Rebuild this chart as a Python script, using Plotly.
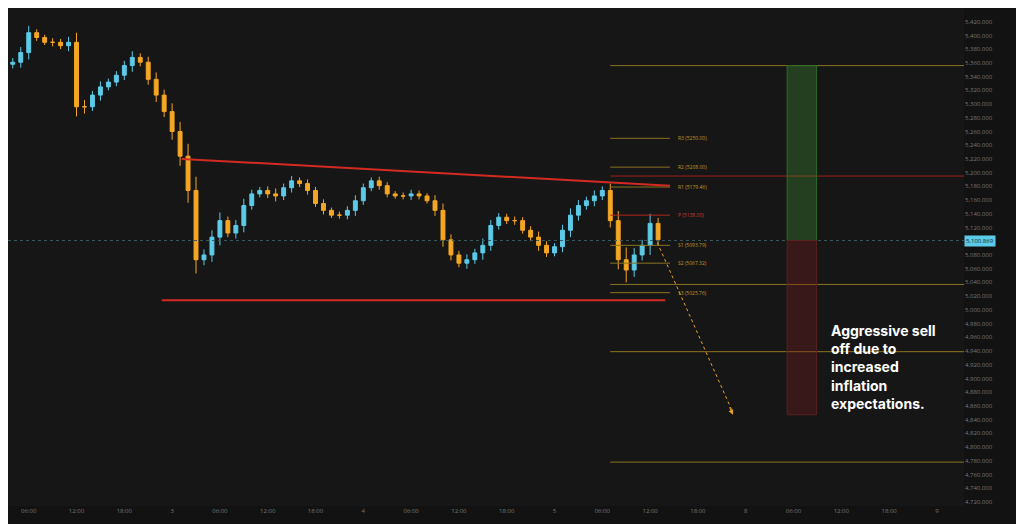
import plotly.graph_objects as go

closes = [5361, 5375, 5404, 5397, 5390, 5390, 5385, 5390, 5296, 5296, 5313, 5325,
          5332, 5342, 5356, 5368, 5361, 5336, 5313, 5289, 5260, 5224, 5174, 5073,
          5080, 5106, 5130, 5112, 5123, 5152, 5169, 5174, 5169, 5166, 5178, 5188,
          5184, 5174, 5155, 5145, 5138, 5138, 5145, 5159, 5178, 5188, 5181, 5169,
          5166, 5166, 5169, 5166, 5159, 5145, 5102, 5080, 5068, 5073, 5083, 5094,
          5123, 5135, 5130, 5130, 5116, 5106, 5094, 5083, 5092, 5116, 5138, 5152,
          5159, 5166, 5174, 5130, 5073, 5058, 5080, 5094, 5126, 5102]
wicks = [6, 8, 10, 5, 4, 6, 5, 8, 14, 10, 6, 8, 5, 6, 7, 9, 6, 8, 10, 8, 12, 14, 18, 20,
         8, 10, 12, 6, 8, 10, 6, 5, 6, 8, 6, 7, 5, 6, 5, 6, 4, 5, 6, 8, 6, 5, 6, 5,
         4, 5, 6, 5, 4, 8, 10, 8, 6, 8, 6, 10, 8, 6, 5, 6, 5, 6, 8, 6, 5, 8, 10, 8,
         6, 8, 6, 10, 14, 18, 10, 8, 14, 8]
opens = [5358] + closes[:-1]
highs = [max(o, c) + w for o, c, w in zip(opens, closes, wicks)]
lows = [min(o, c) - w for o, c, w in zip(opens, closes, wicks)]
idx = list(range(len(closes)))

pivot_names = ["R3 (5250.00)", "R2 (5208.00)", "R1 (5179.46)", "P (5138.00)",
               "S1 (5093.79)", "S2 (5067.32)", "S3 (5025.76)"]
pivot_levels = [5250, 5208, 5179, 5138, 5094, 5068, 5025]
long_levels = [5356, 5037, 4939, 4778]
resist_level = 5195
price_now = 5101

X0, X1 = -0.6, 119.4
fig = go.Figure()
fig.add_trace(go.Candlestick(
    x=idx, open=opens, high=highs, low=lows, close=closes,
    increasing=dict(line=dict(color="#5ccbe8", width=1), fillcolor="#5ccbe8"),
    decreasing=dict(line=dict(color="#f5a623", width=1), fillcolor="#f5a623"),
    whiskerwidth=0, showlegend=False))

for name, lv in zip(pivot_names, pivot_levels):
    col = "#b3261e" if name.startswith("P") else "#8a7420"
    fig.add_shape(type="line", x0=75, x1=82.5, y0=lv, y1=lv, line=dict(color=col, width=1))
    fig.add_annotation(x=83.2, y=lv, text=name, showarrow=False, xanchor="left",
                       font=dict(size=5, color="#c0962a" if col != "#b3261e" else "#d03a30"))
for lv in long_levels:
    fig.add_shape(type="line", x0=75, x1=X1, y0=lv, y1=lv, line=dict(color="#8a7420", width=1))
fig.add_shape(type="line", x0=75, x1=X1, y0=resist_level, y1=resist_level,
              line=dict(color="#a0201c", width=1))
fig.add_shape(type="line", x0=X0, x1=X1, y0=price_now, y1=price_now,
              line=dict(color="#3a5a60", width=1, dash="dot"))

# trend lines
fig.add_shape(type="line", x0=21.2, y0=5220, x1=82.5, y1=5181, line=dict(color="#d42a22", width=2))
fig.add_shape(type="line", x0=18.7, y0=5014, x1=81.9, y1=5014, line=dict(color="#d42a22", width=2))

# long / short boxes
fig.add_shape(type="rect", x0=97.2, x1=100.9, y0=price_now, y1=5356,
              fillcolor="rgba(60,140,50,0.35)", line=dict(color="#2e6b2a", width=1))
fig.add_shape(type="rect", x0=97.2, x1=100.9, y0=4847, y1=price_now,
              fillcolor="rgba(120,30,30,0.35)", line=dict(color="#5a2020", width=1))

fig.add_shape(type="line", x0=80.9, y0=5098, x1=90.4, y1=4850,
              line=dict(color="#e8a030", width=1, dash="dot"))
fig.add_annotation(x=90.4, y=4847, ax=89.9, ay=4860, axref="x", ayref="y",
                   showarrow=True, arrowhead=2, arrowcolor="#e8a030", arrowwidth=1, text="")

fig.add_annotation(x=102.5, y=4985, text="<b>Aggressive sell<br>off due to<br>increased<br>inflation<br>expectations.</b>",
                   showarrow=False, xanchor="left", yanchor="top", align="left",
                   font=dict(family="Inter", size=14, color="white"))
fig.add_annotation(xref="paper", x=1.0, y=price_now, text="5,100.869", showarrow=False,
                   xanchor="left", bgcolor="#5ccbe8", font=dict(size=6, color="#0a2a33"))

tick_vals = list(range(2, 119, 6))
tick_text = ["06:00", "12:00", "18:00", "3", "06:00", "12:00", "18:00", "4", "06:00",
             "12:00", "18:00", "5", "06:00", "12:00", "18:00", "8", "06:00", "12:00", "18:00", "9"]

fig.update_layout(
    width=1016, height=516, margin=dict(l=0, r=60, t=0, b=18),
    paper_bgcolor="#121212", plot_bgcolor="#161616",
    xaxis=dict(range=[X0, X1], rangeslider=dict(visible=False), showgrid=False,
               tickvals=tick_vals, ticktext=tick_text[:len(tick_vals)],
               tickfont=dict(size=6, color="#777"), zeroline=False),
    yaxis=dict(range=[4714, 5440], side="right", dtick=20, tickformat=",.3f",
               showgrid=False, zeroline=False, tickfont=dict(size=6, color="#777")),
)
fig.write_html("out.html")
